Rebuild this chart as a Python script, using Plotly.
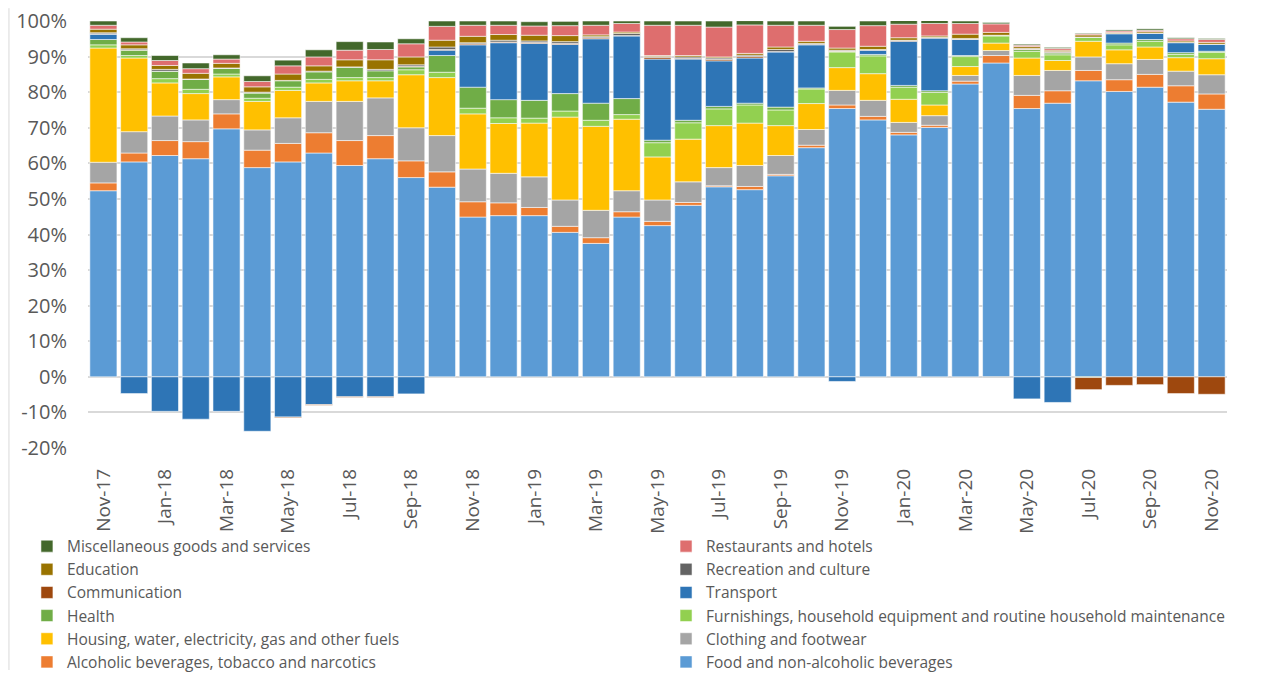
import plotly.graph_objects as go

months = ["Nov-17", "Dec-17", "Jan-18", "Feb-18", "Mar-18", "Apr-18", "May-18", "Jun-18",
          "Jul-18", "Aug-18", "Sep-18", "Oct-18", "Nov-18", "Dec-18", "Jan-19", "Feb-19",
          "Mar-19", "Apr-19", "May-19", "Jun-19", "Jul-19", "Aug-19", "Sep-19", "Oct-19",
          "Nov-19", "Dec-19", "Jan-20", "Feb-20", "Mar-20", "Apr-20", "May-20", "Jun-20",
          "Jul-20", "Aug-20", "Sep-20", "Oct-20", "Nov-20"]

food = [52.3, 60.4, 62.2, 61.3, 69.7, 58.8, 60.4, 62.9, 59.4, 61.3, 56.0, 53.3, 44.9, 45.3, 45.3, 40.6,
        37.5, 44.9, 42.5, 48.2, 53.4, 52.6, 56.5, 64.4, 75.4, 72.2, 68.0, 70.1, 82.3, 88.2, 75.4, 76.9,
        83.2, 80.2, 81.4, 77.2, 75.2]
alcohol = [2.2, 2.5, 4.2, 4.8, 4.2, 4.9, 5.2, 5.7, 7.0, 6.5, 4.7, 4.3, 4.3, 3.6, 2.3, 1.7,
           1.6, 1.5, 1.2, 0.8, 0.3, 0.9, 0.4, 0.7, 1.0, 1.0, 0.7, 0.6, 0.8, 2.1, 3.7, 3.5,
           2.9, 3.3, 3.6, 4.6, 4.3]
clothing = [5.8, 6.0, 6.9, 6.1, 4.0, 5.7, 7.2, 8.8, 11.0, 10.6, 9.3, 10.2, 9.2, 8.3, 8.6, 7.4,
            7.7, 5.9, 6.0, 5.8, 5.1, 5.9, 5.3, 4.4, 4.1, 4.5, 2.8, 2.7, 1.6, 1.4, 5.6, 5.7,
            3.8, 4.5, 4.2, 4.1, 5.4]
housing = [32.1, 20.7, 9.3, 7.4, 6.4, 8.0, 7.7, 5.2, 5.8, 4.8, 14.9, 16.3, 15.5, 14.0, 15.1, 23.3,
           23.6, 20.1, 12.1, 12.0, 11.8, 11.9, 8.4, 7.3, 6.4, 7.5, 6.5, 3.0, 2.5, 2.1, 4.9, 2.8,
           4.4, 3.9, 3.5, 3.8, 4.5]
furnishings = [0.9, 0.7, 1.2, 1.2, 0.8, 0.9, 0.9, 1.0, 0.9, 0.9, 1.4, 1.5, 1.6, 1.6, 1.4, 1.7,
               1.7, 1.3, 4.0, 4.6, 4.7, 5.1, 4.4, 4.1, 4.4, 5.0, 3.4, 3.5, 2.8, 2.0, 1.9, 1.6,
               1.1, 1.4, 1.6, 0.9, 1.8]
health = [1.5, 1.5, 2.1, 2.8, 1.6, 1.5, 1.8, 2.1, 2.9, 1.9, 0.8, 4.7, 5.9, 5.1, 5.0, 4.9,
          4.8, 4.5, 0.7, 0.7, 0.7, 0.5, 0.8, 0.3, 0.2, 0.4, 0.5, 0.5, 0.3, 0.2, 0.5, 0.5,
          -0.2, 0.5, 0.5, 0.5, 0.3]
transport = [1.5, -4.7, -9.7, -11.9, -9.7, -15.3, -11.3, -7.8, -5.6, -5.6, -4.8, 1.5, 11.9, 16.0, 16.0, 13.8,
             18.1, 17.6, 22.8, 17.2, 12.8, 12.7, 15.5, 12.1, -1.3, 1.2, 12.4, 14.8, 4.5, 0.0, -6.2, -7.2,
             0.0, 2.6, 1.7, 2.8, 1.9]
communication = [0.1, 0.1, 0.0, 0.0, 0.0, 0.0, -0.2, -0.2, -0.2, -0.2, 0.2, 0.2, 0.3, 0.2, 0.3, 0.3,
                 0.3, 0.1, 0.5, 0.2, 0.4, 0.4, 0.1, 0.1, 0.1, 0.1, 0.2, 0.1, 0.1, 0.0, 0.1, 0.2,
                 -3.4, -2.4, -2.2, -4.7, -4.9]
recreation = [0.3, 0.3, 0.5, 0.1, 0.1, 0.2, 0.1, 0.2, 0.1, 0.4, 0.4, 0.7, 0.3, 0.5, 0.4, 0.5,
              0.3, 0.6, 0.2, 0.4, 0.4, 0.4, 0.6, 0.3, 0.2, 0.1, 0.1, 0.1, 0.2, -0.2, 0.2, 0.2,
              0.1, 0.1, 0.1, 0.1, 0.1]
education = [1.0, 1.1, 1.1, 1.6, 1.3, 1.5, 1.8, 1.5, 2.0, 2.7, 2.2, 1.9, 1.8, 1.6, 1.6, 1.7,
             0.5, 0.4, 0.3, 0.4, 0.3, 0.5, 0.7, 0.6, 0.6, 0.9, 0.7, 0.4, 1.2, 0.8, 0.5, 0.4,
             0.6, 0.3, 0.4, 0.4, 0.5]
restaurants = [1.1, 0.8, 1.4, 1.3, 1.2, 1.5, 2.3, 2.5, 2.7, 2.9, 3.7, 3.9, 3.1, 2.6, 2.6, 2.8,
               2.7, 2.4, 8.5, 8.5, 8.4, 8.0, 6.1, 4.5, 5.2, 5.8, 3.8, 3.5, 3.0, 2.4, 0.4, 0.5,
               0.3, 0.4, 0.4, 0.6, 0.8]
misc = [1.2, 1.2, 1.4, 1.6, 1.2, 1.6, 1.6, 2.0, 2.4, 2.1, 1.4, 1.5, 1.2, 1.2, 1.2, 1.2,
        1.2, 0.7, 1.2, 1.2, 1.7, 1.2, 1.2, 1.2, 0.9, 1.3, 1.1, 1.1, 0.7, 0.4, 0.3, 0.3,
        0.2, 0.3, 0.4, 0.3, 0.3]

series_names = ["Food and non-alcoholic beverages", "Alcoholic beverages, tobacco and narcotics",
                "Clothing and footwear", "Housing, water, electricity, gas and other fuels",
                "Furnishings, household equipment and routine household maintenance", "Health",
                "Transport", "Communication", "Recreation and culture", "Education",
                "Restaurants and hotels", "Miscellaneous goods and services"]
series_values = [food, alcohol, clothing, housing, furnishings, health, transport,
                 communication, recreation, education, restaurants, misc]
series_colors = ["#5B9BD5", "#ED7D31", "#A5A5A5", "#FFC000", "#92D050", "#70AD47",
                 "#2E75B6", "#9E480E", "#636363", "#997300", "#DE6E6E", "#43682B"]

tick_labels = months[::2]
y_ticks = list(range(-20, 101, 10))

fig = go.Figure()
for i, (name, vals, col) in enumerate(zip(series_names, series_values, series_colors)):
    fig.add_trace(go.Bar(
        x=months, y=vals, name=name,
        legend="legend2" if i % 2 == 0 else "legend",
        marker=dict(color=col, line=dict(color="rgba(255,255,255,0.55)", width=1)),
    ))

axis_font = "'Open Sans', Lato, sans-serif"
leg_font = dict(size=15.5, color="#595959", family="'Open Sans', Lato, sans-serif")
fig.update_layout(
    barmode="relative",
    bargap=0.12,
    width=1258, height=667,
    margin=dict(l=80, r=39, t=13, b=227.4, autoexpand=False),
    paper_bgcolor="white", plot_bgcolor="white",
    font=dict(family=axis_font, color="#595959"),
    showlegend=True,
    legend=dict(
        orientation="v", traceorder="reversed",
        x=-0.0536, xanchor="left", y=-0.191, yanchor="top",
        font=leg_font, itemwidth=30, tracegroupgap=0, bgcolor="rgba(0,0,0,0)",
    ),
    legend2=dict(
        orientation="v", traceorder="reversed",
        x=0.5075, xanchor="left", y=-0.191, yanchor="top",
        font=leg_font, itemwidth=30, tracegroupgap=0, bgcolor="rgba(0,0,0,0)",
    ),
    xaxis=dict(
        type="category", tickmode="array", tickvals=tick_labels, ticktext=tick_labels,
        tickangle=-90, tickfont=dict(size=19, color="#595959", family=axis_font),
        showgrid=False, showline=False, ticks="", ticklen=0, ticklabelstandoff=16,
        ticklabeloverflow="allow",
    ),
    yaxis=dict(
        range=[-20, 100], tickmode="array", tickvals=y_ticks,
        ticktext=[f"{v}%" for v in y_ticks],
        tickfont=dict(size=20, color="#595959", family=axis_font),
        showgrid=True, gridcolor="#D9D9D9", gridwidth=1.5,
        zeroline=True, zerolinecolor="#D9D9D9", zerolinewidth=1.5,
        showline=False, ticks="", ticklabelstandoff=20,
        ticklabeloverflow="allow",
    ),
    shapes=[dict(type="line", xref="paper", yref="paper",
                 x0=-0.0694, x1=-0.0694, y0=-0.52, y1=1.03,
                 line=dict(color="#D9D9D9", width=1))],
)

fig.write_html("out.html")
